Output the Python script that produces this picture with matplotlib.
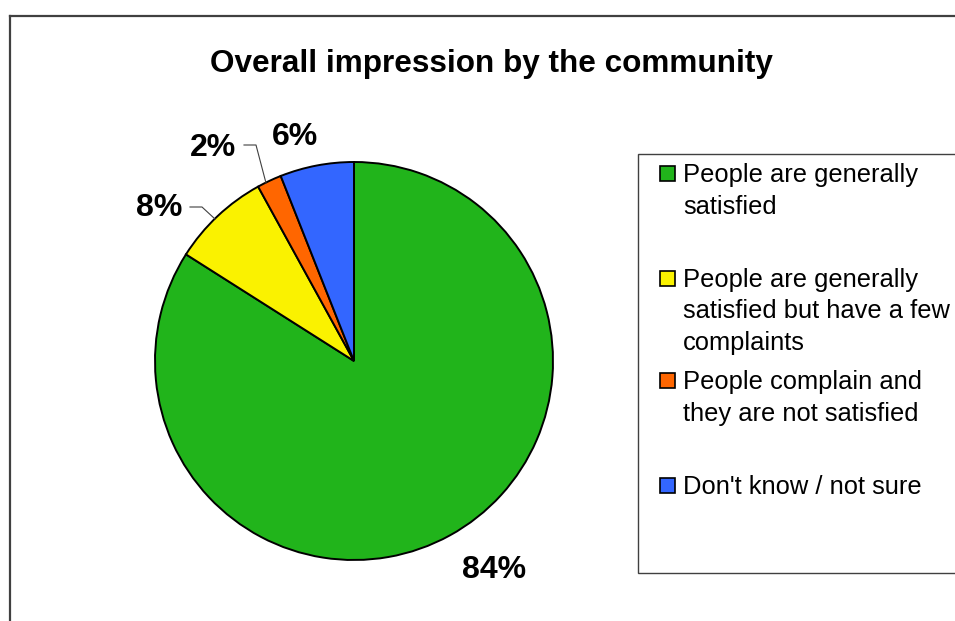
import matplotlib.pyplot as plt
from matplotlib.patches import Rectangle
from matplotlib.lines import Line2D

plt.rcParams['font.family'] = ['Liberation Sans', 'DejaVu Sans']

# data
labels = ["People are generally\nsatisfied",
          "People are generally\nsatisfied but have a few\ncomplaints",
          "People complain and\nthey are not satisfied",
          "Don't know / not sure"]
values = [84, 8, 2, 6]
pct_labels = ["84%", "8%", "2%", "6%"]
colors = ["#21B41B", "#FAF200", "#FF6600", "#3366FF"]

W, H = 955, 621
CX, CY, R = 354, 361, 199   # pie centre / radius in pixels
fig = plt.figure(figsize=(W / 100, H / 100), dpi=100)

# chart frame (runs off the right and bottom edges)
fig.add_artist(Line2D([9.5 / W, 9.5 / W], [0, 1 - 16 / H], color="#404040", lw=1.6))
fig.add_artist(Line2D([9.5 / W, 1], [1 - 16 / H, 1 - 16 / H], color="#404040", lw=1.6))

fig.text(491 / W, 1 - 72 / H, "Overall impression by the community",
         ha="center", va="baseline", fontsize=22.7, fontweight="bold")

# pie
half = 1.25 * R
ax = fig.add_axes([(CX - half) / W, 1 - (CY + half) / H, 2 * half / W, 2 * half / H])
ax.set_xlim(-1.25, 1.25)
ax.set_ylim(-1.25, 1.25)
ax.set_aspect("equal")
ax.axis("off")
ax.pie(values, colors=colors, startangle=90, counterclock=False, radius=1,
       wedgeprops=dict(edgecolor="black", linewidth=1.4))

def px(x, y):
    return ((x - CX) / R, (CY - y) / R)

# percent labels
label_pos = [(494, 570), (159, 208), (213, 148), (295, 137)]
for txt, (x, y) in zip(pct_labels, label_pos):
    ax.text(*px(x, y), txt, ha="center", va="center", fontsize=23, fontweight="bold")

# leader lines for the small slices
for pts in [[(190, 207), (202, 207), (215, 219)],
            [(244, 145), (256, 145), (266, 183)]]:
    xs, ys = zip(*[px(x, y) for x, y in pts])
    ax.plot(xs, ys, color="#404040", lw=0.8)

# legend box
fig.add_artist(Rectangle((638 / W, 1 - 573 / H), 330 / W, 419 / H,
                         transform=fig.transFigure, facecolor="white",
                         edgecolor="#404040", lw=1.0))
entry_y = [173, 278, 380, 485]
for lab, col, y in zip(labels, colors, entry_y):
    fig.add_artist(Rectangle((660 / W, 1 - (y + 8) / H), 15 / W, 15 / H,
                             transform=fig.transFigure, facecolor=col,
                             edgecolor="black", lw=1.2))
    for k, line in enumerate(lab.split("\n")):
        fig.text(683 / W, 1 - (y + 9 + k * 31.5) / H, line, ha="left",
                 va="baseline", fontsize=18.4)

fig.savefig("out.png", dpi=100)
